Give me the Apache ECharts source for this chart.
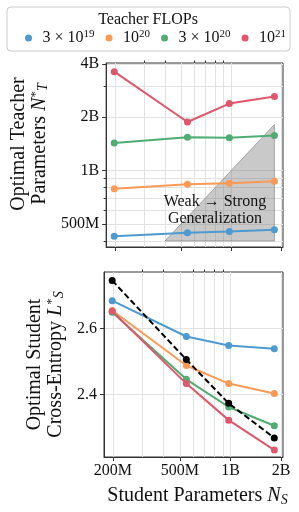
<!DOCTYPE html>
<html><head><meta charset="utf-8">
<script src="https://cdn.jsdelivr.net/npm/echarts@6/dist/echarts.min.js"></script>
<style>html,body{margin:0;padding:0;background:#fff}#c{width:299px;height:512px}</style>
</head><body><div id="c"></div>
<script>
// ---- data ----
const studentParams = [198e6, 546e6, 975e6, 1.82e9];
const flopsNames = ['3e19', '1e20', '3e20', '1e21'];
const flopsLegend = ['{t|3 × 10}{sup|19}', '{t|10}{sup|20}', '{t|3 × 10}{sup|20}', '{t|10}{sup|21}'];
const teacher3e19 = [425e6, 445e6, 453e6, 463e6];
const teacher1e20 = [788e6, 836e6, 847e6, 869e6];
const teacher3e20 = [1.43e9, 1.54e9, 1.53e9, 1.58e9];
const teacher1e21 = [3.62e9, 1.88e9, 2.39e9, 2.62e9];
const loss3e19 = [2.685, 2.576, 2.549, 2.539];
const loss1e20 = [2.655, 2.488, 2.433, 2.403];
const loss3e20 = [2.650, 2.446, 2.362, 2.305];
const loss1e21 = [2.653, 2.433, 2.322, 2.231];
const lossOptimal = [2.746, 2.506, 2.373, 2.268];
const weakStrongX = [400e6, 1.82e9, 1.82e9];
const weakStrongY = [400e6, 400e6, 1.82e9];
const xMajorTicks = [2e8, 5e8, 1e9, 2e9];
const xTickLabels = ['200M', '500M', '1B', '2B'];
const xMinorTicks = [3e8, 4e8, 6e8, 7e8, 8e8, 9e8];
const yTopMajorTicks = [5e8, 1e9, 2e9, 4e9];
const yTopTickLabels = ['500M', '1B', '2B', '4B'];
const yTopMinorTicks = [4e8, 6e8, 7e8, 8e8, 9e8, 3e9];
const yBottomTicks = [2.4, 2.6];

// ---- style ----
const colors = ['#4c9ad0', '#fa9a55', '#4fac72', '#e0566b'];
const FONT = 'Liberation Serif';
const AX = '#333';
const GRIDC = '#e2e2e2';
const X0 = 177e6, X1 = 2.05e9;

function pick(ticks, labels) {
  return v => { const i = ticks.findIndex(t => Math.abs(t - v) / t < 1e-6); return i >= 0 ? labels[i] : ''; };
}
function pairs(xs, ys) { return xs.map((x, i) => [x, ys[i]]); }

const topData = [teacher3e19, teacher1e20, teacher3e20, teacher1e21];
const botData = [loss3e19, loss1e20, loss3e20, loss1e21];

function xMajor(gi, labels) {
  return {
    type: 'log', logBase: 10, gridIndex: gi, min: X0, max: X1,
    axisLine: { show: true, lineStyle: { color: AX, width: 1 } },
    axisTick: { show: true, customValues: xMajorTicks, length: 4, lineStyle: { color: AX } },
    axisLabel: labels ? { show: true, customValues: xMajorTicks, formatter: pick(xMajorTicks, xTickLabels),
      fontFamily: FONT, fontSize: 16, color: '#111', margin: 6 } : { show: false },
    splitLine: { show: true, lineStyle: { color: GRIDC, width: 1 } },
    name: labels ? '{a|Student Parameters }{i|N}{sub|S}' : '',
    nameLocation: 'middle', nameGap: 28,
    nameTextStyle: { fontFamily: FONT, fontSize: 20, color: '#111', padding: [0, 0, 0, 8],
      rich: { a: { fontFamily: FONT, fontSize: 20, color: '#111' }, i: { fontFamily: FONT, fontSize: 20, fontStyle: 'italic', color: '#111' },
        sub: { fontFamily: FONT, fontSize: 14, fontStyle: 'italic', color: '#111', verticalAlign: 'bottom', padding: [8, 0, 0, 0] } } }
  };
}
function xMinor(gi) {
  return {
    type: 'log', logBase: 10, gridIndex: gi, min: X0, max: X1,
    axisLine: { show: false },
    axisTick: { show: true, customValues: xMinorTicks, length: 2.5, lineStyle: { color: AX } },
    axisLabel: { show: false },
    splitLine: { show: true, lineStyle: { color: GRIDC, width: 1 } }
  };
}
const nameRich = {
  a: { fontFamily: FONT, fontSize: 20, color: '#111', lineHeight: 21 },
  i: { fontFamily: FONT, fontSize: 20, fontStyle: 'italic', color: '#111', lineHeight: 21 },
  sup: { fontFamily: FONT, fontSize: 13, color: '#111', verticalAlign: 'top', lineHeight: 21, padding: [0, 0, 6, 0] },
  sub: { fontFamily: FONT, fontSize: 14, fontStyle: 'italic', color: '#111', verticalAlign: 'bottom', lineHeight: 21, padding: [8, 0, 0, 0] }
};

const series = [];
flopsNames.forEach((n, k) => {
  series.push({ name: n, type: 'line', xAxisIndex: 0, yAxisIndex: 0, data: pairs(studentParams, topData[k]),
    symbol: 'circle', symbolSize: 7, color: colors[k], lineStyle: { width: 2 }, z: 5 });
});
flopsNames.forEach((n, k) => {
  series.push({ name: n, type: 'line', xAxisIndex: 2, yAxisIndex: 2, data: pairs(studentParams, botData[k]),
    symbol: 'circle', symbolSize: 7, color: colors[k], lineStyle: { width: 2 }, z: 5 });
});
series.push({ name: 'optimal', type: 'line', xAxisIndex: 2, yAxisIndex: 2, data: pairs(studentParams, lossOptimal),
  symbol: 'circle', symbolSize: 7, color: '#000', lineStyle: { width: 2, type: [6, 3] }, z: 6 });
series.push({ name: 'weak', type: 'custom', xAxisIndex: 0, yAxisIndex: 0, data: pairs(weakStrongX, weakStrongY), z: 2, silent: true,
  renderItem: (params, api) => {
    if (params.dataIndex !== 0) return null;
    const pts = weakStrongX.map((x, i) => api.coord([x, weakStrongY[i]]));
    return { type: 'polygon', shape: { points: pts }, style: { fill: 'rgba(120,120,120,0.4)', stroke: 'rgba(100,100,100,0.6)', lineWidth: 0.8 } };
  } });

const option = {
  animation: false,
  backgroundColor: '#fff',
  grid: [
    { left: 104, right: 16, top: 63, height: 184, show: true, borderColor: AX, borderWidth: 1, backgroundColor: 'transparent' },
    { left: 104, right: 16, top: 272, height: 185, show: true, borderColor: AX, borderWidth: 1, backgroundColor: 'transparent' }
  ],
  xAxis: [xMajor(0, false), xMinor(0), xMajor(1, true), xMinor(1)],
  yAxis: [
    { type: 'log', logBase: 10, gridIndex: 0, min: 3.7e8, max: 4.05e9, position: 'left',
      axisLine: { show: true, lineStyle: { color: AX } },
      axisTick: { show: true, customValues: yTopMajorTicks, length: 4, lineStyle: { color: AX } },
      axisLabel: { customValues: yTopMajorTicks, formatter: pick(yTopMajorTicks, yTopTickLabels), fontFamily: FONT, fontSize: 16, color: '#111', margin: 7 },
      splitLine: { show: true, lineStyle: { color: GRIDC } },
      name: '{a|Optimal Teacher}\n{a|Parameters }{i|N}{sup|*}{sub|T}', nameLocation: 'middle', nameRotate: 90, nameGap: 49,
      nameTextStyle: { rich: nameRich, fontFamily: FONT, fontSize: 20, lineHeight: 21, padding: [0, 0, 0, 22] } },
    { type: 'log', logBase: 10, gridIndex: 0, min: 3.7e8, max: 4.05e9, position: 'left',
      axisLine: { show: false },
      axisTick: { show: true, customValues: yTopMinorTicks, length: 2.5, lineStyle: { color: AX } },
      axisLabel: { show: false },
      splitLine: { show: true, lineStyle: { color: GRIDC } } },
    { type: 'value', gridIndex: 1, min: 2.21, max: 2.772, position: 'left',
      axisLine: { show: true, lineStyle: { color: AX } },
      axisTick: { show: true, customValues: yBottomTicks, length: 4, lineStyle: { color: AX } },
      axisLabel: { customValues: yBottomTicks, formatter: v => v.toFixed(1), fontFamily: FONT, fontSize: 16, color: '#111', margin: 7 },
      splitLine: { show: true, lineStyle: { color: GRIDC } },
      name: '{a|Optimal Student}\n{a|Cross-Entropy }{i|L}{sup|*}{sub|S}', nameLocation: 'middle', nameRotate: 90, nameGap: 37,
      nameTextStyle: { rich: nameRich, fontFamily: FONT, fontSize: 20, lineHeight: 21 } }
  ],
  legend: {
    data: flopsNames, left: 7, top: 7, padding: [22, 4, 5, 18], itemGap: 11, itemWidth: 18, itemHeight: 7, icon: 'circle',
    borderColor: '#cccccc', borderWidth: 1, borderRadius: 4, backgroundColor: '#fff',
    formatter: n => flopsLegend[flopsNames.indexOf(n)],
    textStyle: { fontFamily: FONT, fontSize: 16, color: '#111',
      rich: { t: { fontFamily: FONT, fontSize: 16, color: '#111', lineHeight: 18 },
        sup: { fontFamily: FONT, fontSize: 11, color: '#111', verticalAlign: 'top', lineHeight: 18, padding: [0, 0, 5, 0] } } }
  },
  graphic: [
    { type: 'text', x: 148, y: 19.5, z: 100, style: { text: 'Teacher FLOPs', font: '16px "Liberation Serif"', fill: '#111', align: 'center', verticalAlign: 'middle' } },
    { type: 'text', x: 215, y: 202, z: 100, style: { text: 'Weak → Strong', font: '16px "Liberation Serif"', fill: '#111', align: 'center', verticalAlign: 'middle' } },
    { type: 'text', x: 215, y: 219, z: 100, style: { text: 'Generalization', font: '16px "Liberation Serif"', fill: '#111', align: 'center', verticalAlign: 'middle' } }
  ],
  series
};
const chart = echarts.init(document.getElementById('c'), null, { renderer: 'canvas' });
chart.setOption(option);
</script></body></html>
